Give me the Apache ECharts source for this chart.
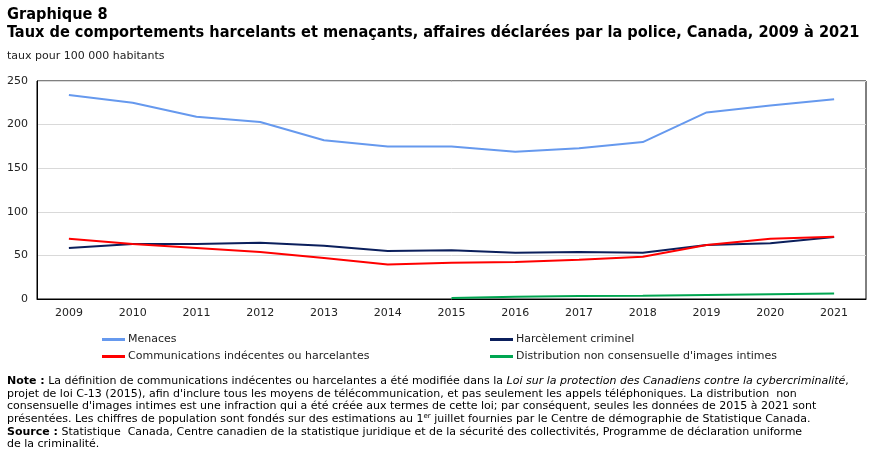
<!DOCTYPE html>
<html>
<head>
<meta charset="utf-8">
<script src="https://cdn.jsdelivr.net/npm/echarts@6/dist/echarts.min.js"></script>
<style>
  html, body { margin: 0; padding: 0; background: #fff; }
  #chart { width: 873px; height: 454px; }
</style>
</head>
<body>
<div id="chart"></div>
<script>
const years = ['2009', '2010', '2011', '2012', '2013', '2014', '2015', '2016', '2017', '2018', '2019', '2020', '2021']
const menaces = [234, 225, 209, 203, 182, 175, 175, 169, 173, 180, 214, 222, 229]
const harcelement = [58.5, 63, 63, 64.5, 61, 55, 56, 53, 54, 53, 62, 64, 71]
const communications = [69, 63, 58.5, 54, 47, 39.5, 41.5, 42.5, 45, 48.5, 62, 69, 71.5]
const distribution = [null, null, null, null, null, null, 1.2, 2.5, 3.5, 3.8, 4.6, 5.5, 6.3]
const yTicks = [0, 50, 100, 150, 200, 250]

const font = '"DejaVu Sans", Verdana, sans-serif'
const titleFont = '"DejaVu Sans Condensed", "DejaVu Sans", sans-serif'

const chart = echarts.init(document.getElementById('chart'))

function line(name, data, color) {
  return {
    name: name,
    type: 'line',
    data: data,
    symbol: 'none',
    lineStyle: { width: 2, color: color },
    itemStyle: { color: color },
    animation: false
  }
}

const legendBase = {
  orient: 'vertical',
  top: 329,
  itemWidth: 23,
  itemHeight: 3,
  itemGap: 6,
  icon: 'rect',
  textStyle: { fontSize: 11, color: '#222', padding: [0, 0, 0, -2], fontFamily: font }
}

const option = {
  textStyle: { fontFamily: font },
  title: [
    {
      text: 'Graphique 8\nTaux de comportements harcelants et menaçants, affaires déclarées par la police, Canada, 2009 à 2021',
      left: 7,
      top: 6,
      padding: 0,
      textStyle: { fontSize: 16.2, fontWeight: 'bold', color: '#000', lineHeight: 18, fontFamily: titleFont }
    },
    {
      text: 'taux pour 100 000 habitants',
      left: 7,
      top: 51,
      padding: 0,
      textStyle: { fontSize: 11, fontWeight: 'normal', color: '#222', fontFamily: font }
    }
  ],
  grid: {
    left: 37,
    right: 7,
    top: 81,
    bottom: 155,
    show: true,
    borderColor: '#000',
    borderWidth: 1
  },
  legend: [
    Object.assign({}, legendBase, {
      data: ['Menaces', 'Communications indécentes ou harcelantes'],
      left: 97
    }),
    Object.assign({}, legendBase, {
      data: ['Harcèlement criminel', 'Distribution non consensuelle d\'images intimes'],
      left: 485
    })
  ],
  xAxis: {
    type: 'category',
    data: years,
    boundaryGap: true,
    axisLine: { lineStyle: { color: '#000' } },
    axisTick: { inside: true, length: 4, lineStyle: { color: '#000' } },
    axisLabel: { fontSize: 11, color: '#222', margin: 9 }
  },
  yAxis: {
    type: 'value',
    min: yTicks[0],
    max: yTicks[yTicks.length - 1],
    interval: 50,
    axisLine: { show: true, lineStyle: { color: '#000' } },
    axisTick: { show: false },
    axisLabel: { fontSize: 11, color: '#222', margin: 9 },
    splitLine: { lineStyle: { color: '#d9d9d9' } }
  },
  series: [
    line('Menaces', menaces, '#6699ee'),
    line('Harcèlement criminel', harcelement, '#0b1f5c'),
    line('Communications indécentes ou harcelantes', communications, '#ff0000'),
    line('Distribution non consensuelle d\'images intimes', distribution, '#00a651')
  ],
  graphic: [
    {
      type: 'text',
      left: 7,
      top: 375,
      style: {
        fontFamily: font,
        fontSize: 11,
        lineHeight: 12.6,
        fill: '#000',
        rich: {
          b: { fontWeight: 'bold', fontSize: 11, fontFamily: font, lineHeight: 12.6 },
          i: { fontStyle: 'italic', fontSize: 11, fontFamily: font, lineHeight: 12.6 },
          sup: { fontSize: 7, verticalAlign: 'top', lineHeight: 12.6, fontFamily: font }
        },
        text: [
          '{b|Note :} La définition de communications indécentes ou harcelantes a été modifiée dans la {i|Loi sur la protection des Canadiens contre la cybercriminalité},',
          'projet de loi C-13 (2015), afin d\'inclure tous les moyens de télécommunication, et pas seulement les appels téléphoniques. La distribution  non',
          'consensuelle d\'images intimes est une infraction qui a été créée aux termes de cette loi; par conséquent, seules les données de 2015 à 2021 sont',
          'présentées. Les chiffres de population sont fondés sur des estimations au 1{sup|er} juillet fournies par le Centre de démographie de Statistique Canada.',
          '{b|Source :} Statistique  Canada, Centre canadien de la statistique juridique et de la sécurité des collectivités, Programme de déclaration uniforme',
          'de la criminalité.'
        ].join('\n')
      }
    }
  ]
}

chart.setOption(option)
</script>
</body>
</html>
